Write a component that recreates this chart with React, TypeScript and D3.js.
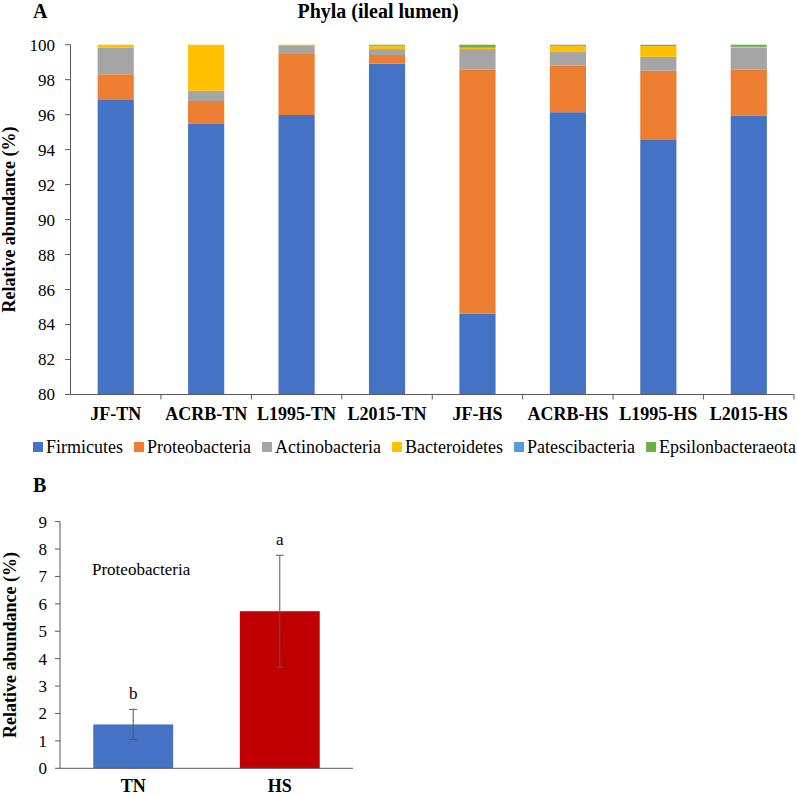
import React, { useMemo } from "react";
import * as d3 from "d3";

const groups = ["JF-TN", "ACRB-TN", "L1995-TN", "L2015-TN", "JF-HS", "ACRB-HS", "L1995-HS", "L2015-HS"];
const phyla = ["Firmicutes", "Proteobacteria", "Actinobacteria", "Bacteroidetes", "Patescibacteria", "Epsilonbacteraeota"];
const phylaColors = ["#4472C4", "#ED7D31", "#A5A5A5", "#FFC000", "#5B9BD5", "#70AD47"];
const firmicutes = [96.84, 95.47, 95.98, 98.91, 84.63, 96.14, 94.55, 95.93];
const proteobacteria = [1.47, 1.31, 3.49, 0.5, 13.96, 2.66, 3.96, 2.66];
const actinobacteria = [1.52, 0.59, 0.5, 0.34, 1.16, 0.78, 0.8, 1.24];
const bacteroidetes = [0.17, 2.63, 0.03, 0.17, 0.06, 0.36, 0.62, 0.03];
const patescibacteria = [0, 0, 0, 0.02, 0.02, 0.06, 0.07, 0.02];
const epsilonbacteraeota = [0, 0, 0, 0.06, 0.17, 0, 0, 0.12];
const yTicksA = [80, 82, 84, 86, 88, 90, 92, 94, 96, 98, 100];

const treatments = ["TN", "HS"];
const proteoMeans = [1.6, 5.73];
const proteoErrors = [0.55, 2.04];
const proteoLetters = ["b", "a"];
const treatmentColors = ["#4472C4", "#C00000"];
const yTicksB = [0, 1, 2, 3, 4, 5, 6, 7, 8, 9];

const FONT = "'Liberation Serif', 'DejaVu Serif', 'Times New Roman', Times, serif";
const AXIS = "#595959";

export default function App() {
  const series = [firmicutes, proteobacteria, actinobacteria, bacteroidetes, patescibacteria, epsilonbacteraeota];

  const xA = d3.scaleBand<string>().domain(groups).range([70.5, 794]).paddingInner(0.6).paddingOuter(0.3);
  const yA = d3.scaleLinear().domain([80, 100]).range([394.5, 44.7]);

  const table = groups.map((g, i) => {
    const row: any = { group: g };
    phyla.forEach((p, j) => (row[p] = series[j][i]));
    return row;
  });
  const stacked = d3.stack<any>().keys(phyla)(table);

  const xB = d3.scaleBand<string>().domain(treatments).range([60, 353]).paddingInner(0.455).paddingOuter(0.227);
  const yB = d3.scaleLinear().domain([0, 9]).range([768.3, 521.6]);

  const legend = useMemo(() => {
    const canvas = document.createElement("canvas");
    const ctx = canvas.getContext("2d")!;
    ctx.font = `18px ${FONT}`;
    const widths = phyla.map((p) => ctx.measureText(p).width);
    const start = 33;
    const end = 796;
    const sq = 13;
    const total = widths.reduce((a, b) => a + b + sq, 0);
    const gap = (end - start - total) / (phyla.length - 1);
    let x = start;
    return phyla.map((p, i) => {
      const pos = x;
      x += sq + widths[i] + gap;
      return pos;
    });
  }, []);

  const clamp = (v: number) => Math.max(80, Math.min(100, v));

  return (
    <svg
      width={797}
      height={796}
      style={{ position: "absolute", left: 0, top: 0, background: "#fff", fontFamily: FONT }}
    >
      <rect x={0} y={0} width={797} height={796} fill="#fff" />
      <text x={33} y={18} fontSize={20} fontWeight="bold">A</text>
      <text x={378} y={18} fontSize={20} fontWeight="bold" textAnchor="middle">Phyla (ileal lumen)</text>
      <text
        transform={`translate(15, ${(yA(80) + yA(100)) / 2}) rotate(-90)`}
        textAnchor="middle"
        fontSize={18}
        fontWeight="bold"
      >
        Relative abundance (%)
      </text>
      {stacked.map((s, si) => (
        <g key={s.key} fill={phylaColors[si]}>
          {s.map((d, i) => {
            const y0 = clamp(d[0]);
            const y1 = clamp(d[1]);
            if (y1 - y0 <= 0) return null;
            return (
              <rect
                key={i}
                x={xA(groups[i])}
                width={xA.bandwidth()}
                y={yA(y1)}
                height={yA(y0) - yA(y1)}
              />
            );
          })}
        </g>
      ))}
      <line x1={70.5} x2={70.5} y1={yA(100)} y2={yA(80)} stroke={AXIS} />
      {yTicksA.map((t) => (
        <g key={t}>
          <line x1={65} x2={70.5} y1={yA(t)} y2={yA(t)} stroke={AXIS} />
          <text x={55} y={yA(t)} dy="0.35em" textAnchor="end" fontSize={17}>{t}</text>
        </g>
      ))}
      <line x1={70.5} x2={794} y1={yA(80)} y2={yA(80)} stroke={AXIS} />
      {groups.map((g) => {
        const bx = (xA(g) as number) - xA.step() * 0.3;
        return (
          <g key={g}>
            <line x1={bx + xA.step()} x2={bx + xA.step()} y1={yA(80)} y2={yA(80) + 5} stroke={AXIS} />
            <text x={(xA(g) as number) + xA.bandwidth() / 2} y={420} textAnchor="middle" fontSize={18} fontWeight="bold">
              {g}
            </text>
          </g>
        );
      })}
      {phyla.map((p, i) => (
        <g key={p}>
          <rect x={legend[i]} y={442} width={10} height={10} fill={phylaColors[i]} />
          <text x={legend[i] + 13} y={453} fontSize={18}>{p}</text>
        </g>
      ))}

      <text x={33} y={492} fontSize={20} fontWeight="bold">B</text>
      <text
        transform={`translate(16, ${(yB(0) + yB(9)) / 2}) rotate(-90)`}
        textAnchor="middle"
        fontSize={18}
        fontWeight="bold"
      >
        Relative abundance (%)
      </text>
      <text x={92} y={575} fontSize={17}>Proteobacteria</text>
      {treatments.map((t, i) => {
        const cx = (xB(t) as number) + xB.bandwidth() / 2;
        return (
          <g key={t}>
            <rect
              x={xB(t)}
              width={xB.bandwidth()}
              y={yB(proteoMeans[i])}
              height={yB(0) - yB(proteoMeans[i])}
              fill={treatmentColors[i]}
            />
            <line x1={cx} x2={cx} y1={yB(proteoMeans[i] + proteoErrors[i])} y2={yB(proteoMeans[i] - proteoErrors[i])} stroke={AXIS} />
            <line x1={cx - 4} x2={cx + 4} y1={yB(proteoMeans[i] + proteoErrors[i])} y2={yB(proteoMeans[i] + proteoErrors[i])} stroke={AXIS} />
            <line x1={cx - 4} x2={cx + 4} y1={yB(proteoMeans[i] - proteoErrors[i])} y2={yB(proteoMeans[i] - proteoErrors[i])} stroke={AXIS} />
            <text x={cx} y={yB(proteoMeans[i] + proteoErrors[i]) - 10} textAnchor="middle" fontSize={17}>
              {proteoLetters[i]}
            </text>
            <text x={cx} y={792} textAnchor="middle" fontSize={18} fontWeight="bold">{t}</text>
          </g>
        );
      })}
      <line x1={60} x2={60} y1={yB(9)} y2={yB(0)} stroke={AXIS} />
      <line x1={60} x2={353} y1={yB(0)} y2={yB(0)} stroke={AXIS} />
      {yTicksB.map((t) => (
        <g key={t}>
          <line x1={55} x2={60} y1={yB(t)} y2={yB(t)} stroke={AXIS} />
          <text x={47} y={yB(t)} dy="0.35em" textAnchor="end" fontSize={17}>{t}</text>
        </g>
      ))}
    </svg>
  );
}
